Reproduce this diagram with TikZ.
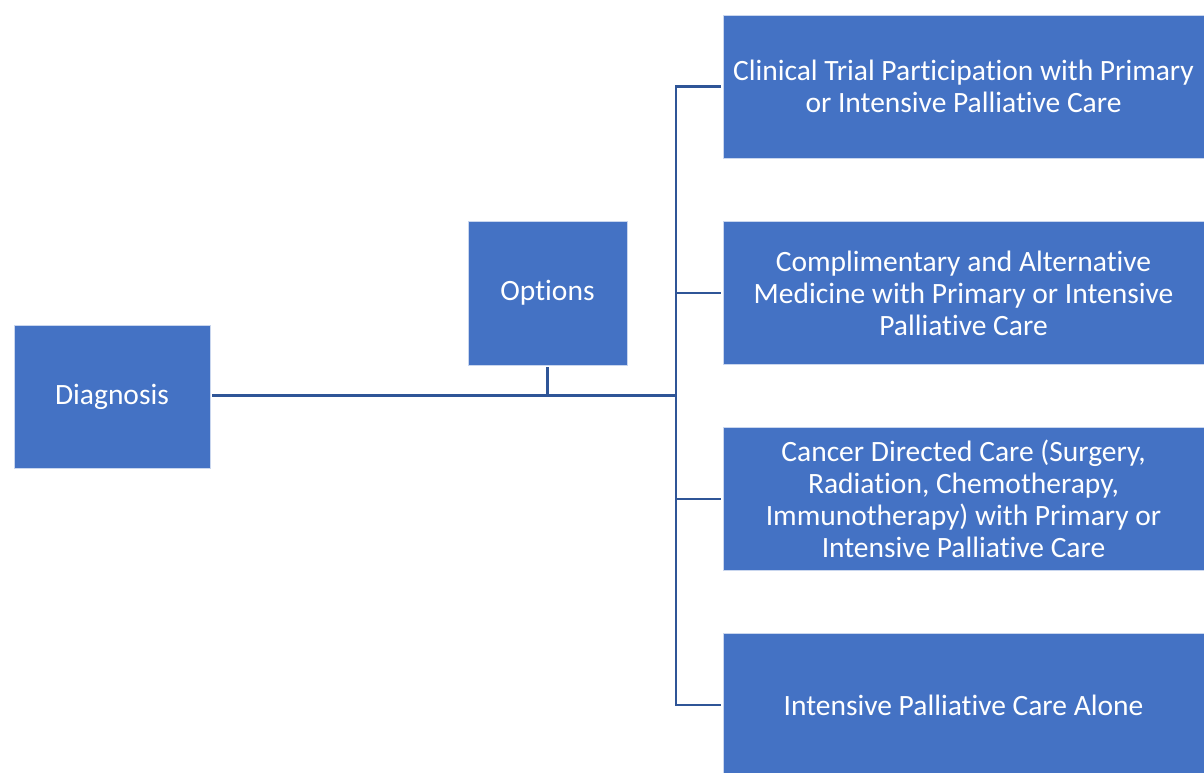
\documentclass[tikz,border=0pt]{standalone}
\usepackage{fontspec}
\setmainfont{Carlito}[RawFeature={-liga;-clig;-dlig;-calt;-rlig;-hlig}]
\definecolor{boxblue}{HTML}{4472C4}
\definecolor{boxedge}{HTML}{C9D6EE}
\definecolor{linkblue}{HTML}{2F5597}
\begin{document}
\begin{tikzpicture}[x=1pt,y=-1pt,
  box/.style={rectangle, fill=boxblue, draw=boxedge, line width=0.8pt,
    text=white, align=center, inner sep=0pt, outer sep=2pt,
    font=\fontsize{29.5}{32}\selectfont},
  leftbox/.style={box, minimum width=196pt, minimum height=143pt},
  midbox/.style={box, minimum width=159pt, minimum height=144pt},
  optbox/.style={box, minimum width=481pt, minimum height=143pt},
  link/.style={draw=linkblue, line width=2.6pt}]
\useasboundingbox (0,0) rectangle (1204,772);

% boxes
\node[leftbox] (diag) at (112,396.5) {\raisebox{-2pt}{Diagnosis}};
\node[midbox]  (opts) at (547.5,293) {\raisebox{-2pt}{Options}};
\node[optbox]  (o1) at (963.5,86.5) {Clinical Trial Participation with Primary\\or Intensive Palliative Care};
\node[optbox]  (o2) at (963.5,293) {Complimentary and Alternative\\Medicine with Primary or Intensive\\Palliative Care};
\node[optbox]  (o3) at (963.5,499) {Cancer Directed Care (Surgery,\\Radiation, Chemotherapy,\\Immunotherapy) with Primary or\\Intensive Palliative Care};
\node[optbox]  (o4) at (963.5,705) {Intensive Palliative Care Alone};

% trunk and junctions
\coordinate (join) at (676,395.5);
\coordinate (stub) at (opts.south |- join);
\coordinate (t1) at (join |- o1.west);
\coordinate (t2) at (join |- o2.west);
\coordinate (t3) at (join |- o3.west);
\coordinate (t4) at (join |- o4.west);

% connectors
\draw[link] (diag.east |- join) -- (join);
\draw[link] (opts.south) -- (stub);
\draw[link, line cap=rect] (t1) -- (t4);
\draw[link] (t1) -- (o1.west);
\draw[link] (t2) -- (o2.west);
\draw[link] (t3) -- (o3.west);
\draw[link] (t4) -- (o4.west);
\end{tikzpicture}
\end{document}
